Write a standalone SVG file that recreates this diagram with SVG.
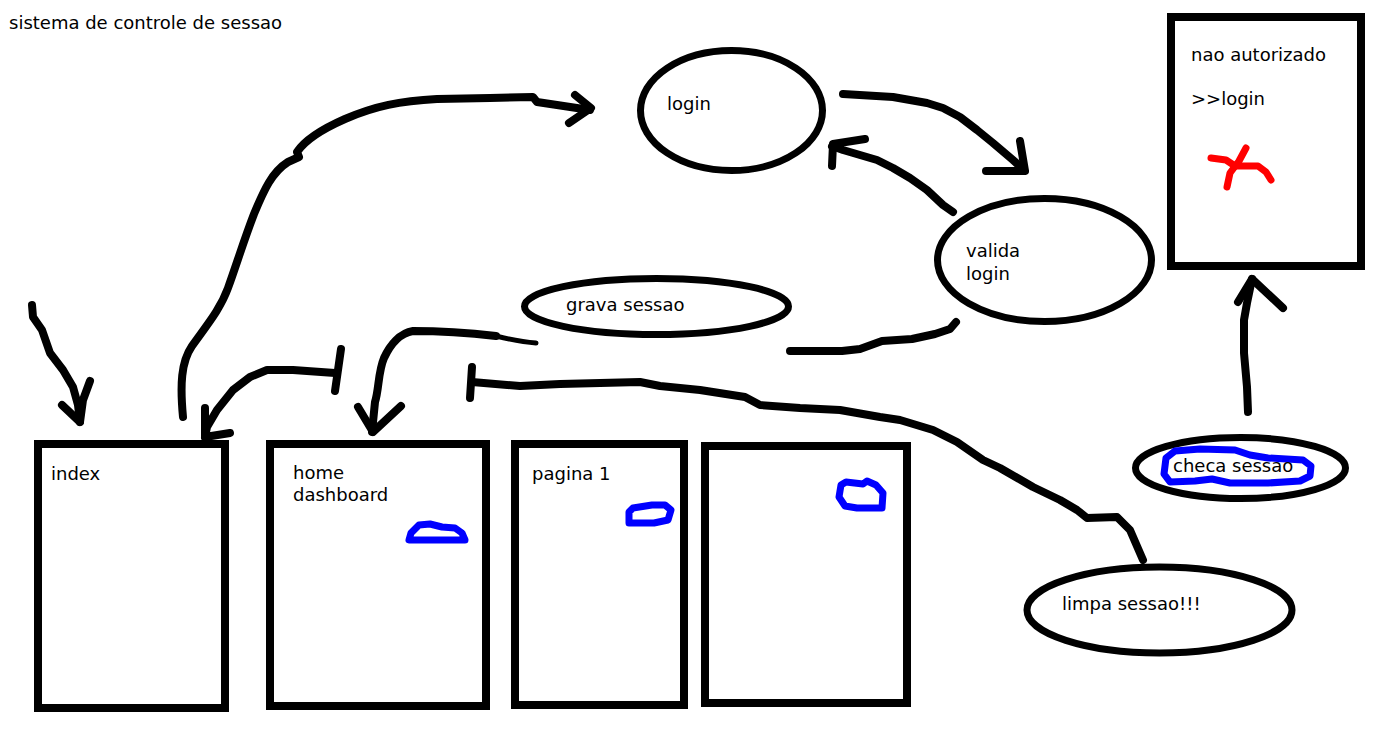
<svg xmlns="http://www.w3.org/2000/svg" width="1382" height="732" viewBox="0 0 1382 732">
  <style>
    .lbl { font-family: "DejaVu Sans", "Liberation Sans", sans-serif; font-size: 18px; fill: #000; }
    .box { fill: none; stroke: #000; stroke-width: 8; }
    .oval { fill: none; stroke: #000; stroke-width: 7; }
    .ink { fill: none; stroke: #000; stroke-width: 8; stroke-linecap: round; stroke-linejoin: round; }
    .blue { fill: none; stroke: #0000ff; stroke-width: 7; stroke-linecap: round; stroke-linejoin: round; }
    .red { fill: none; stroke: #ff0000; stroke-width: 7; stroke-linecap: round; stroke-linejoin: round; }
  </style>
  <rect width="1382" height="732" fill="#fff"/>

  <text class="lbl" x="9" y="29">sistema de controle de sessao</text>

  <!-- pages -->
  <g id="index">
    <rect class="box" x="38" y="444" width="187" height="264"/>
    <text class="lbl" x="51" y="480">index</text>
  </g>
  <g id="home">
    <rect class="box" x="270" y="444" width="216" height="262"/>
    <text class="lbl" x="293" y="479">home</text>
    <text class="lbl" x="293" y="501">dashboard</text>
    <path class="blue" d="M409,540 L465,540 L462,533 L455,528 L442,527 L430,524 L419,525 L411,533 Z"/>
  </g>
  <g id="pagina1">
    <rect class="box" x="515" y="444" width="169" height="261"/>
    <text class="lbl" x="532" y="480">pagina 1</text>
    <path class="blue" d="M629,512 L629,523 L654,523 L668,520 L671,510 L665,505 L652,505 L633,508 Z"/>
  </g>
  <g id="pagina2">
    <rect class="box" x="705" y="446" width="202" height="257"/>
    <path class="blue" d="M841,485 L839,497 L845,506 L857,508 L882,508 L883,493 L876,485 L867,481 L863,484 L846,482 Z"/>
  </g>
  <g id="nao-autorizado">
    <rect class="box" x="1171" y="17" width="190" height="249"/>
    <text class="lbl" x="1191" y="61">nao autorizado</text>
    <text class="lbl" x="1191" y="105">&gt;&gt;login</text>
    <path class="red" d="M1211,158 L1226,160 L1235,166 L1258,166 L1266,172 L1271,180"/>
    <path class="red" d="M1246,148 L1239,161 L1230,173 L1227,187"/>
  </g>

  <!-- processes -->
  <g id="login">
    <ellipse class="oval" cx="731.5" cy="110.5" rx="91" ry="60"/>
    <text class="lbl" x="667" y="110">login</text>
  </g>
  <g id="valida-login">
    <ellipse class="oval" cx="1044.5" cy="260" rx="107" ry="61.5"/>
    <text class="lbl" x="966" y="257">valida</text>
    <text class="lbl" x="966" y="280">login</text>
  </g>
  <g id="grava-sessao">
    <ellipse class="oval" cx="656.5" cy="306.5" rx="132" ry="28"/>
    <text class="lbl" x="566" y="311">grava sessao</text>
  </g>
  <g id="checa-sessao">
    <ellipse class="oval" cx="1240.5" cy="468" rx="105" ry="30.5"/>
    <path class="blue" d="M1166,458 L1164,474 L1170,482 L1195,481 L1212,479 L1230,483 L1268,483 L1300,481 L1310,476 L1311,466 L1303,460 L1268,458 L1250,455 L1235,450 L1200,449 L1175,451 Z"/>
    <text class="lbl" x="1173" y="472">checa sessao</text>
  </g>
  <g id="limpa-sessao">
    <ellipse class="oval" cx="1159.5" cy="610" rx="132.5" ry="43"/>
    <text class="lbl" x="1062" y="610">limpa sessao!!!</text>
  </g>

  <!-- connectors -->
  <g id="connectors">
    <!-- entry into index -->
    <path class="ink" d="M32,305 L33,317 L42,330 L50,353 L63,370 L73,387 L78,405 L80,422"/>
    <path class="ink" d="M62,405 L80,422 L83,400 L90,381"/>
    <!-- index to login -->
    <path class="ink" d="M183,417 C180,385 181,362 192,346 C206,326 220,310 228,288 C236,266 244,240 254,214 C264,190 272,172 288,162 L299,157 L297,152 C305,140 320,130 345,119 C375,106 400,101 437,99 L490,98 L533,97 L537,102 L557,105 L590,110"/>
    <path class="ink" d="M575,95 L591,108 L569,123"/>
    <!-- login to valida login -->
    <path class="ink" d="M843,94 L893,97 L927,103 L943,108 L960,117 L977,130 L993,143 L1013,160 L1024,170"/>
    <path class="ink" d="M1020,141 L1025,171 L986,171"/>
    <!-- valida login back to login -->
    <path class="ink" d="M953,212 L943,205 L927,190 L910,178 L893,168 L877,160 L860,155 L843,150 L832,146"/>
    <path class="ink" d="M865,139 L833,144 L832,166"/>
    <!-- valida login to grava sessao -->
    <path class="ink" d="M956,322 L950,329 L935,334 L912,339 L882,341 L860,349 L842,351 L790,351"/>
    <!-- grava sessao to home -->
    <path d="M536,343 C520,342 508,339 496,336" fill="none" stroke="#000" stroke-width="5" stroke-linecap="round"/>
    <path class="ink" d="M496,336 C470,333 440,331 413,331 C400,333 390,345 384,358 C378,372 379,390 375,402 L372,432"/>
    <path class="ink" d="M358,407 L373,432 L401,406"/>
    <!-- home back to index -->
    <path class="ink" d="M341,349 L335,391"/>
    <path class="ink" d="M335,373 L293,370 L267,370 L250,377 L233,390 L217,410 L207,427 L205,437"/>
    <path class="ink" d="M205,408 L205,437 L230,433"/>
    <!-- limpa sessao to pages -->
    <path class="ink" d="M472,367 L470,398"/>
    <path class="ink" d="M472,382 L520,386 L560,384 L600,383 L640,382 L660,386 L700,390 L745,397 L760,405 L800,408 L840,410 L880,417 L900,420 L933,430 L957,442 L983,460 L1000,468 L1033,487 L1060,500 L1077,510 L1087,518 L1117,517 L1130,530 L1143,560"/>
    <!-- checa sessao to nao autorizado -->
    <path class="ink" d="M1248,412 L1247,387 L1244,353 L1244,320 L1247,303 L1252,279"/>
    <path class="ink" d="M1238,302 L1252,279 L1283,308"/>
  </g>
</svg>
